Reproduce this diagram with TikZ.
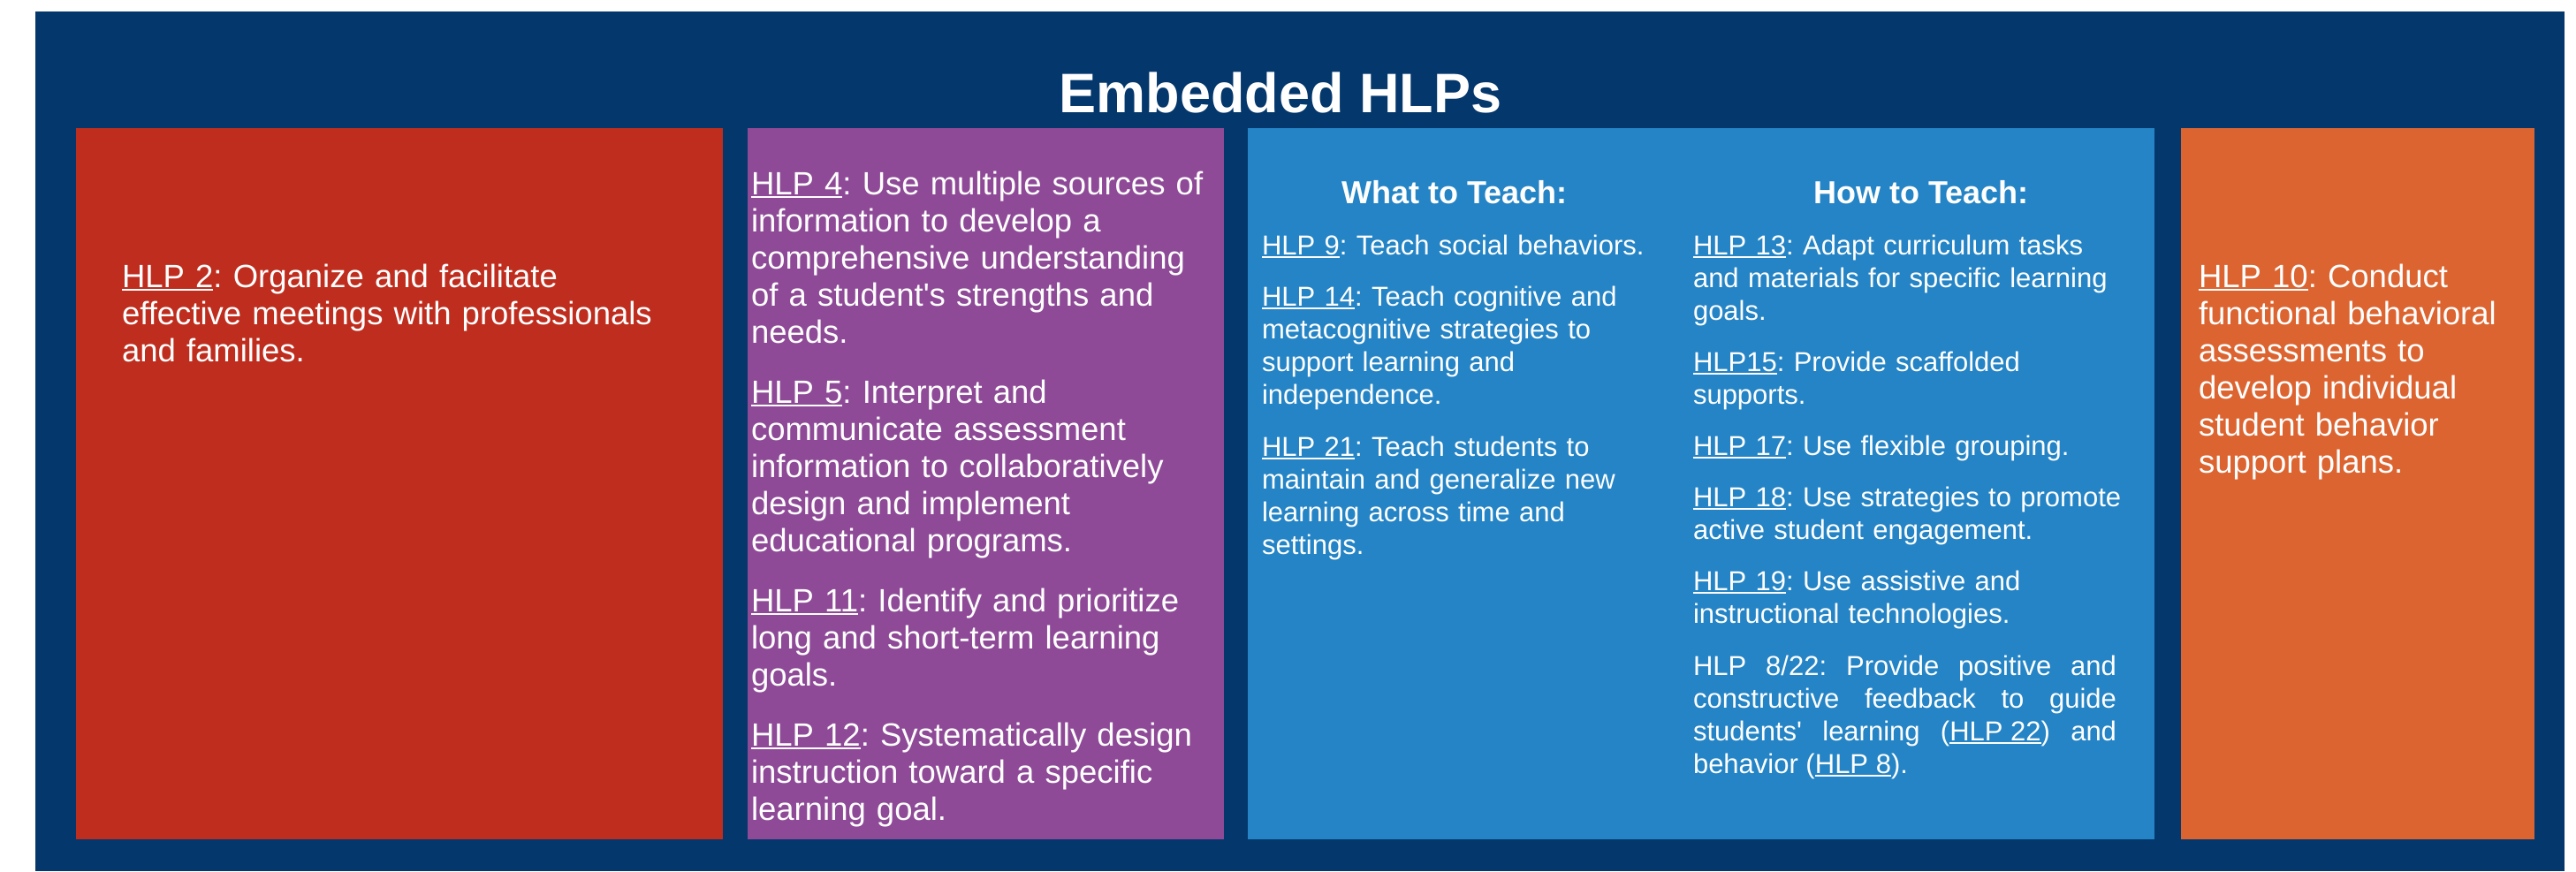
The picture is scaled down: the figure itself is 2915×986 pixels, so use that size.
\documentclass[tikz,border=0pt]{standalone}
\usepackage{fontspec}
\setmainfont{Liberation Sans}
\usepackage{xcolor}
\usepackage{tikz}
\usetikzlibrary{positioning}

\definecolor{navy}{HTML}{04376C}
\definecolor{hlpred}{HTML}{BE2D1E}
\definecolor{hlppurple}{HTML}{8E4A97}
\definecolor{hlpblue}{HTML}{2484C5}
\definecolor{hlporange}{HTML}{DC6430}

\frenchspacing
\newsavebox{\hlpbox}
\newcommand{\hlp}[1]{\leavevmode\sbox{\hlpbox}{#1}\rlap{\rule[-0.12em]{\wd\hlpbox}{0.07em}}\usebox{\hlpbox}}

\begin{document}
\begin{tikzpicture}[inner sep=0pt, outer sep=0pt,
    frame/.style = {fill=navy, minimum width=2862pt, minimum height=973pt, anchor=north west},
    main/.style = {minimum height=805pt},
    big/.style = {text=white, align=left, anchor=base west, font=\fontsize{36.5}{42}\selectfont},
    small/.style = {text=white, align=left, anchor=base west, font=\fontsize{31}{37}\selectfont},
    head/.style = {text=white, anchor=base, font=\bfseries\fontsize{36}{43}\selectfont}]
    \fill[white] (0,0) rectangle (2915pt,-986pt);
    \useasboundingbox (0,0) rectangle (2915pt,-986pt);
    \node[frame] (1) at (40pt,-13pt) {};
    \node[text=white, anchor=base, font=\bfseries\fontsize{63}{70}\selectfont] (2) at (1449pt,-127pt) {Embedded HLPs};
    \node[main, fill=hlpred, minimum width=732pt] (3) [below right=132pt and 46pt of 1.north west] {};
    \node[main, fill=hlppurple, minimum width=539pt] (4) [right=28pt of 3] {};
    \node[main, fill=hlpblue, minimum width=1026pt] (5) [right=27pt of 4] {};
    \node[main, fill=hlporange, minimum width=400pt] (6) [right=30pt of 5] {};

    \node[big, text width=680pt, xshift=52pt, yshift=-180pt] (7) at (3.north west)
        {\hlp{HLP 2}: Organize and facilitate\\effective meetings with professionals\\and families.};
    \node[big, text width=530pt, xshift=4pt, yshift=-75pt] (8) at (4.north west)
        {\hlp{HLP 4}: Use multiple sources of\\information to develop a\\comprehensive understanding\\of a student\textquotesingle s strengths and\\needs.\\[26pt]
         \hlp{HLP 5}: Interpret and\\communicate assessment\\information to collaboratively\\design and implement\\educational programs.\\[26pt]
         \hlp{HLP 11}: Identify and prioritize\\long and short-term learning\\goals.\\[26pt]
         \hlp{HLP 12}: Systematically design\\instruction toward a specific\\learning goal.};
    \node[head, xshift=234pt, yshift=-85pt] (9) at (5.north west) {What to Teach:};
    \node[head, xshift=762pt, yshift=-85pt] (10) at (5.north west) {How to Teach:};
    \node[small, text width=470pt, xshift=16pt, yshift=-143pt] (11) at (5.north west)
        {\hlp{HLP 9}: Teach social behaviors.\\[21.5pt]
         \hlp{HLP 14}: Teach cognitive and\\metacognitive strategies to\\support learning and\\independence.\\[21.5pt]
         \hlp{HLP 21}: Teach students to\\maintain and generalize new\\learning across time and\\settings.};
    \node[small, text width=490pt, xshift=504pt, yshift=-143pt] (12) at (5.north west)
        {\hlp{HLP 13}: Adapt curriculum tasks\\and materials for specific learning\\goals.\\[21pt]
         \hlp{HLP15}: Provide scaffolded\\supports.\\[21pt]
         \hlp{HLP 17}: Use flexible grouping.\\[21pt]
         \hlp{HLP 18}: Use strategies to promote\\active student engagement.\\[21pt]
         \hlp{HLP 19}: Use assistive and\\instructional technologies.};
    \node[small, align=justify, text width=479pt, xshift=504pt, yshift=-619pt] (13) at (5.north west)
        {HLP 8/22: Provide positive and\linebreak constructive feedback to guide\linebreak students\textquotesingle\ learning (\hlp{HLP 22}) and\linebreak behavior (\hlp{HLP 8}).};
    \node[big, text width=380pt, xshift=20pt, yshift=-180pt] (14) at (6.north west)
        {\hlp{HLP 10}: Conduct\\functional behavioral\\assessments to\\develop individual\\student behavior\\support plans.};
\end{tikzpicture}
\end{document}
